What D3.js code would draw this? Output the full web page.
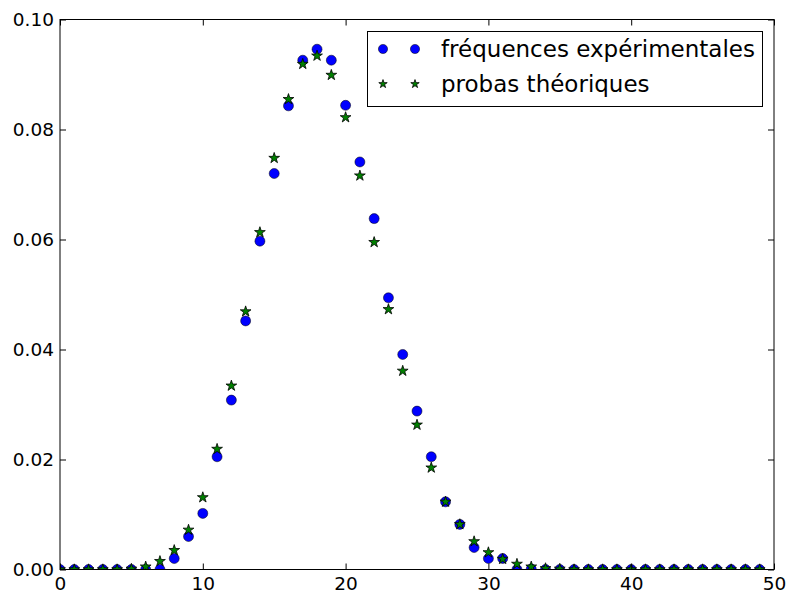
<!DOCTYPE html>
<html>
<head>
    <meta charset="utf-8" />
    <script src="https://cdn.jsdelivr.net/npm/d3@7"></script>
    <style>
        body { margin: 0; background: #fff; }
        text { font-family: "DejaVu Sans", sans-serif; }
    </style>
</head>
<body>
</body>

<script>
    // valeurs k = 0..49
    var kValues = d3.range(0, 50);
    // fréquences expérimentales
    var freqExp = [
        0, 0, 0, 0, 0, 0, 0, 0, 0.0020, 0.0060,
        0.0102, 0.0205, 0.0308, 0.0452, 0.0597, 0.0720, 0.0843, 0.0926, 0.0946, 0.0926,
        0.0844, 0.0741, 0.0638, 0.0494, 0.0391, 0.0288, 0.0205, 0.0123, 0.0082, 0.0040,
        0.0020, 0.0020, 0, 0.0001, 0, 0, 0, 0, 0, 0,
        0, 0, 0, 0, 0, 0, 0, 0, 0, 0
    ];
    // probas théoriques
    var probaTheo = [
        0, 0, 0, 0, 0, 0.0001, 0.0005, 0.0015, 0.0035, 0.0072,
        0.0131, 0.0219, 0.0334, 0.0469, 0.0613, 0.0748, 0.0855, 0.0919, 0.0934, 0.0899,
        0.0822, 0.0716, 0.0595, 0.0473, 0.0361, 0.0263, 0.0185, 0.0123, 0.0082, 0.0051,
        0.0031, 0.0019, 0.0010, 0.0005, 0.0002, 0.0001, 0, 0, 0, 0,
        0, 0, 0, 0, 0, 0, 0, 0, 0, 0
    ];
    var xTicks = [0, 10, 20, 30, 40, 50];
    var yTicks = [0, 0.02, 0.04, 0.06, 0.08, 0.10];
    var legendLabels = ["fréquences expérimentales", "probas théoriques"];

    var width = 790, height = 594;
    var mLeft = 60, mRight = 774, mTop = 19.5, mBottom = 569.5;

    var svg = d3.select("body").append("svg")
                .attr("width", width)
                .attr("height", height);

    var x = d3.scaleLinear().domain([0, 50]).range([mLeft, mRight]);
    var y = d3.scaleLinear().domain([0, 0.1]).range([mBottom, mTop]);

    svg.append("clipPath").attr("id", "clip")
       .append("rect")
       .attr("x", mLeft).attr("y", mTop)
       .attr("width", mRight - mLeft).attr("height", mBottom - mTop);

    var plot = svg.append("g").attr("clip-path", "url(#clip)");

    // cercles bleus
    plot.selectAll("circle.exp")
        .data(kValues)
        .enter()
        .append("circle")
        .attr("class", "exp")
        .attr("cx", function (d) { return x(d); })
        .attr("cy", function (d) { return y(freqExp[d]); })
        .attr("r", 5)
        .style("fill", "#0000ff")
        .style("stroke", "#000")
        .style("stroke-width", 0.5);

    // étoiles vertes
    var star = d3.symbol().type(d3.symbolStar).size(36);
    plot.selectAll("path.theo")
        .data(kValues)
        .enter()
        .append("path")
        .attr("class", "theo")
        .attr("d", star)
        .attr("transform", function (d) { return "translate(" + x(d) + "," + y(probaTheo[d]) + ")"; })
        .style("fill", "#008000")
        .style("stroke", "#000")
        .style("stroke-width", 0.8);

    // axes, ticks vers l'intérieur sur les quatre côtés
    var tickLen = 6;
    svg.append("g").attr("transform", "translate(0," + mBottom + ")")
       .call(d3.axisBottom(x).tickValues(xTicks).tickSizeInner(-tickLen).tickSizeOuter(0).tickPadding(7)
             .tickFormat(d3.format("d")));
    svg.append("g").attr("transform", "translate(0," + mTop + ")")
       .call(d3.axisTop(x).tickValues(xTicks).tickSizeInner(-tickLen).tickSizeOuter(0).tickFormat(""));
    svg.append("g").attr("transform", "translate(" + mLeft + ",0)")
       .call(d3.axisLeft(y).tickValues(yTicks).tickSizeInner(-tickLen).tickSizeOuter(0).tickPadding(6)
             .tickFormat(d3.format(".2f")));
    svg.append("g").attr("transform", "translate(" + mRight + ",0)")
       .call(d3.axisRight(y).tickValues(yTicks).tickSizeInner(-tickLen).tickSizeOuter(0).tickFormat(""));

    svg.selectAll(".domain").remove();
    svg.selectAll(".tick line").style("stroke", "#000");
    svg.selectAll(".tick text")
       .style("font-family", "DejaVu Sans")
       .style("font-size", "18.5px")
       .style("fill", "#000");

    svg.append("rect")
       .attr("x", mLeft).attr("y", mTop)
       .attr("width", mRight - mLeft).attr("height", mBottom - mTop)
       .style("fill", "none").style("stroke", "#000").style("stroke-width", 1);

    // légende
    var legend = svg.append("g");
    legend.append("rect")
          .attr("x", 367.5).attr("y", 31.5)
          .attr("width", 395).attr("height", 75)
          .style("fill", "#fff").style("stroke", "#000").style("stroke-width", 1);

    var rows = legend.selectAll("g.row")
                     .data(legendLabels)
                     .enter()
                     .append("g")
                     .attr("transform", function (d, i) { return "translate(0," + (49 + i * 35) + ")"; });

    rows.each(function (d, i) {
        var g = d3.select(this);
        [383, 415].forEach(function (mx) {
            if (i === 0) {
                g.append("circle").attr("cx", mx).attr("cy", 0).attr("r", 4.6)
                 .style("fill", "#0000ff").style("stroke", "#000").style("stroke-width", 0.5);
            } else {
                g.append("path").attr("d", d3.symbol().type(d3.symbolStar).size(22))
                 .attr("transform", "translate(" + mx + ",0)")
                 .style("fill", "#008000").style("stroke", "#000").style("stroke-width", 0.8);
            }
        });
        g.append("text").attr("x", 441).attr("y", 0).attr("dy", "0.35em")
         .style("font-size", "23px").style("fill", "#000")
         .text(d);
    });
</script>
</html>
